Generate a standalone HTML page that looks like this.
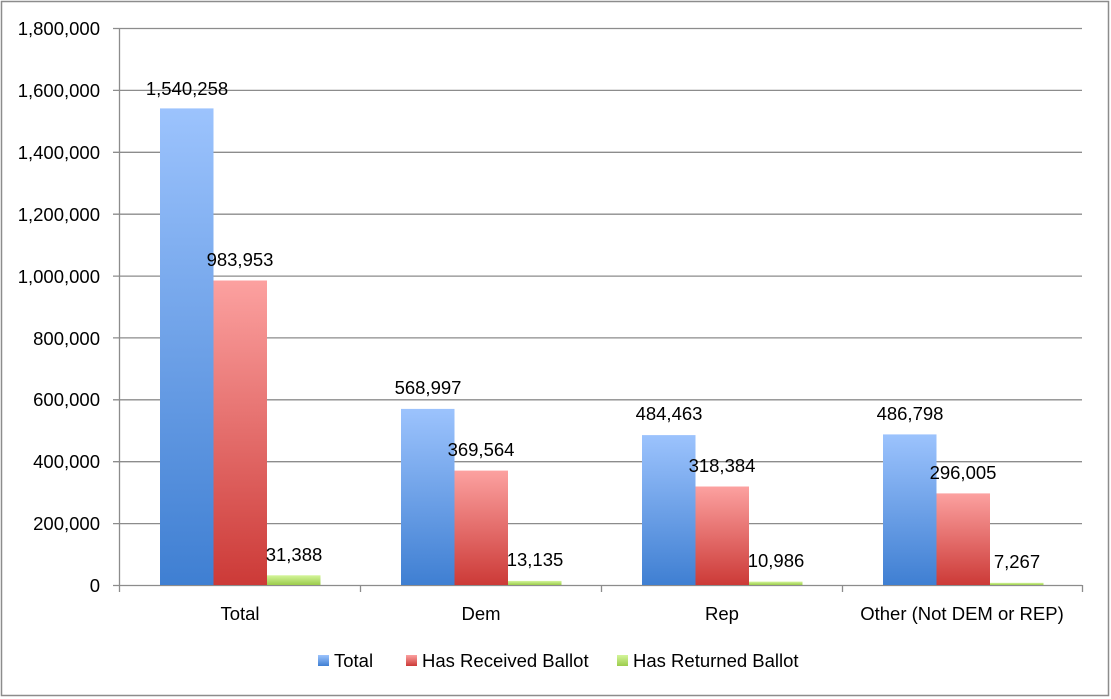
<!DOCTYPE html>
<html><head><meta charset="utf-8"><style>
html,body{margin:0;padding:0;background:#fff;}
svg{display:block;font-family:"Liberation Sans",sans-serif;}
</style></head><body>
<svg width="1111" height="699" viewBox="0 0 1111 699" xmlns="http://www.w3.org/2000/svg">
<defs>
<linearGradient id="gb" x1="0" y1="0" x2="0" y2="1"><stop offset="0" stop-color="#9cc3fd"/><stop offset="1" stop-color="#3f7fd2"/></linearGradient>
<linearGradient id="gr" x1="0" y1="0" x2="0" y2="1"><stop offset="0" stop-color="#fca1a0"/><stop offset="1" stop-color="#cc3a37"/></linearGradient>
<linearGradient id="gg" x1="0" y1="0" x2="0" y2="1"><stop offset="0" stop-color="#d4f59a"/><stop offset="1" stop-color="#9ccc4c"/></linearGradient>
</defs>
<rect x="1.5" y="1.5" width="1107" height="694" fill="#fff" stroke="#8c8c8c" stroke-width="1.5"/>
<g stroke="#8c8c8c" stroke-width="1.3">
<line x1="113" y1="28.5" x2="1082" y2="28.5"/>
<line x1="113" y1="90.4" x2="1082" y2="90.4"/>
<line x1="113" y1="152.3" x2="1082" y2="152.3"/>
<line x1="113" y1="214.2" x2="1082" y2="214.2"/>
<line x1="113" y1="276.1" x2="1082" y2="276.1"/>
<line x1="113" y1="337.9" x2="1082" y2="337.9"/>
<line x1="113" y1="399.8" x2="1082" y2="399.8"/>
<line x1="113" y1="461.7" x2="1082" y2="461.7"/>
<line x1="113" y1="523.6" x2="1082" y2="523.6"/>
<line x1="113" y1="585.5" x2="1082" y2="585.5"/>
<line x1="119.5" y1="28" x2="119.5" y2="592"/>
<line x1="360.5" y1="585" x2="360.5" y2="592"/>
<line x1="601.5" y1="585" x2="601.5" y2="592"/>
<line x1="842.5" y1="585" x2="842.5" y2="592"/>
<line x1="1082.5" y1="585" x2="1082.5" y2="592"/>
</g>
<g font-size="18.5" fill="#000" text-anchor="end">
<text x="100" y="35">1,800,000</text>
<text x="100" y="97">1,600,000</text>
<text x="100" y="159">1,400,000</text>
<text x="100" y="221">1,200,000</text>
<text x="100" y="283">1,000,000</text>
<text x="100" y="345">800,000</text>
<text x="100" y="406">600,000</text>
<text x="100" y="468">400,000</text>
<text x="100" y="530">200,000</text>
<text x="100" y="592">0</text>
</g>
<g>
<rect x="160" y="108.4" width="53.5" height="476.6" fill="url(#gb)"/>
<rect x="213.5" y="280.5" width="53.5" height="304.5" fill="url(#gr)"/>
<rect x="267" y="575.3" width="53.5" height="9.7" fill="url(#gg)"/>
<rect x="401" y="408.9" width="53.5" height="176.1" fill="url(#gb)"/>
<rect x="454.5" y="470.6" width="53.5" height="114.4" fill="url(#gr)"/>
<rect x="508" y="580.9" width="53.5" height="4.1" fill="url(#gg)"/>
<rect x="642" y="435.1" width="53.5" height="149.9" fill="url(#gb)"/>
<rect x="695.5" y="486.5" width="53.5" height="98.5" fill="url(#gr)"/>
<rect x="749" y="581.6" width="53.5" height="3.4" fill="url(#gg)"/>
<rect x="883" y="434.4" width="53.5" height="150.6" fill="url(#gb)"/>
<rect x="936.5" y="493.4" width="53.5" height="91.6" fill="url(#gr)"/>
<rect x="990" y="582.8" width="53.5" height="2.2" fill="url(#gg)"/>
</g>
<g font-size="18.5" fill="#000" text-anchor="middle">
<text x="187" y="95">1,540,258</text>
<text x="240" y="266">983,953</text>
<text x="294" y="561">31,388</text>
<text x="428" y="394">568,997</text>
<text x="481" y="456">369,564</text>
<text x="535" y="566">13,135</text>
<text x="669" y="420">484,463</text>
<text x="722" y="472">318,384</text>
<text x="776" y="567">10,986</text>
<text x="910" y="420">486,798</text>
<text x="963" y="479">296,005</text>
<text x="1017" y="568">7,267</text>
<text x="240" y="620">Total</text>
<text x="481" y="620">Dem</text>
<text x="722" y="620">Rep</text>
<text x="962" y="620">Other (Not DEM or REP)</text>
</g>
<rect x="318" y="655" width="11" height="11" fill="url(#gb)"/>
<rect x="406" y="655" width="11" height="11" fill="url(#gr)"/>
<rect x="617" y="655" width="11" height="11" fill="url(#gg)"/>
<g font-size="18.5" fill="#000">
<text x="334" y="667">Total</text>
<text x="422" y="667">Has Received Ballot</text>
<text x="633" y="667">Has Returned Ballot</text>
</g>
</svg>
</body></html>
